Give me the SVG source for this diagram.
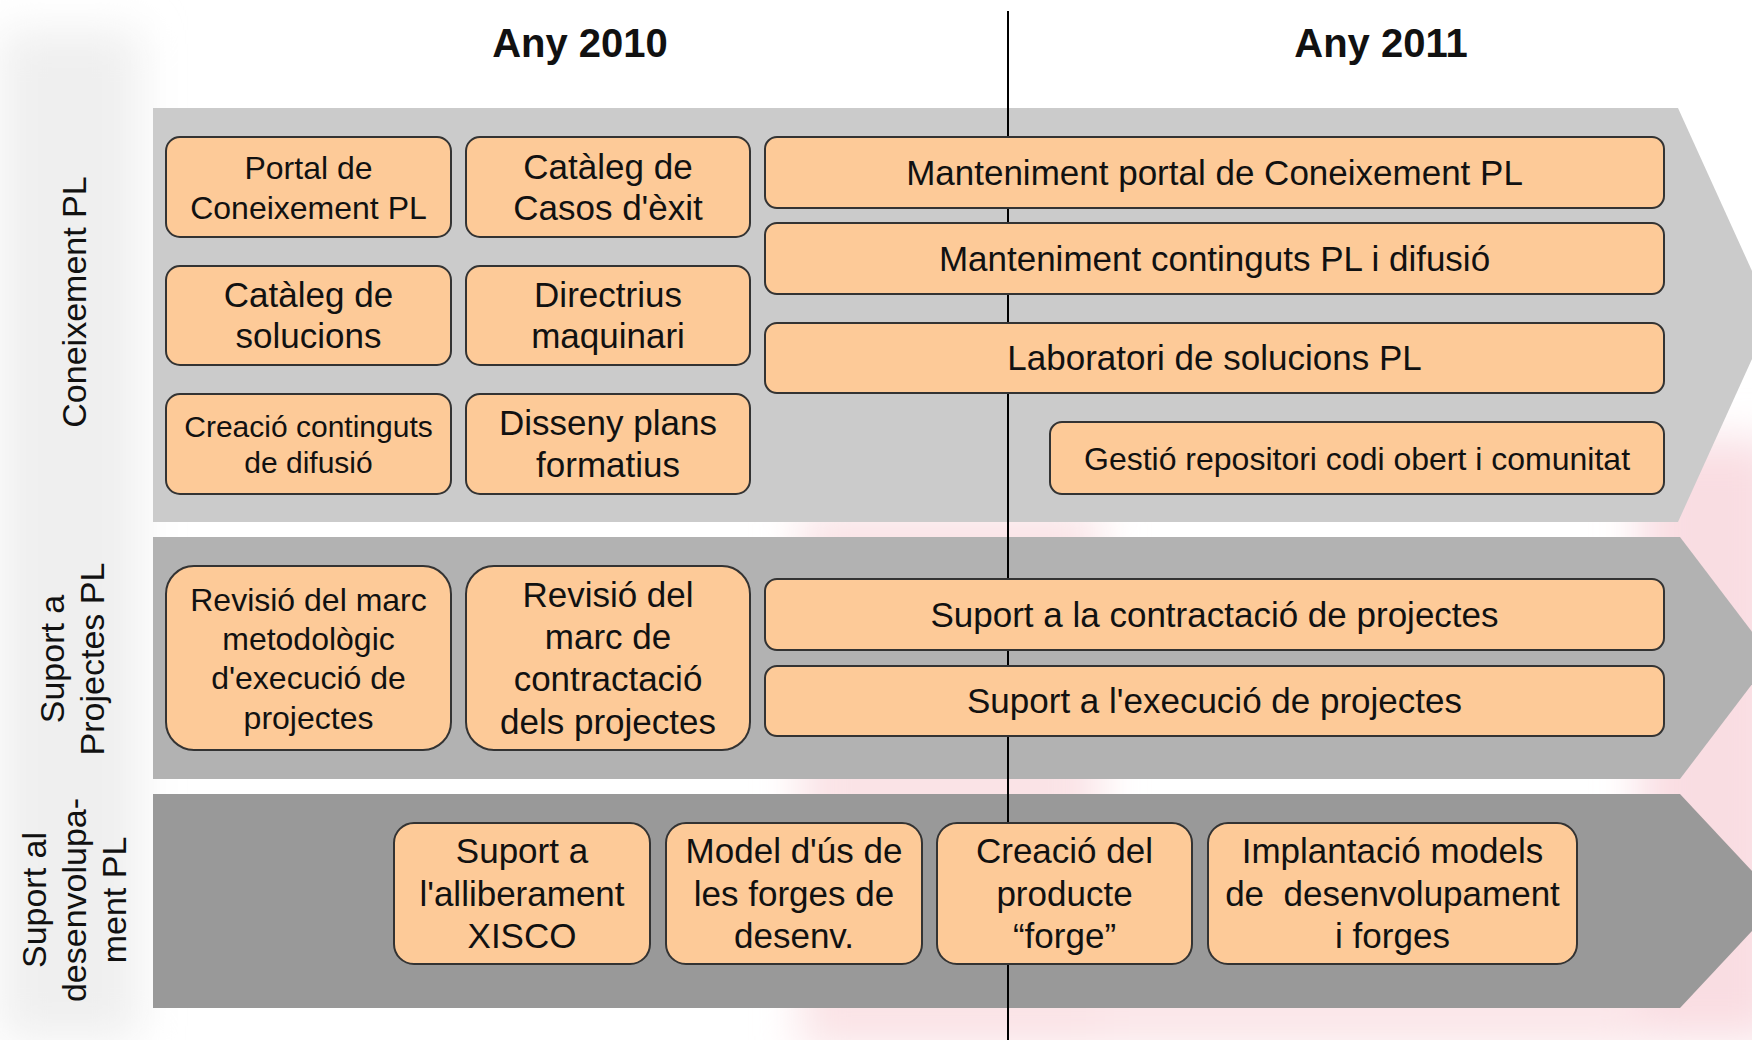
<svg xmlns="http://www.w3.org/2000/svg" width="1752" height="1040" viewBox="0 0 1752 1040">
  <defs>
    <filter id="blur" x="-20%" y="-20%" width="140%" height="140%">
      <feGaussianBlur stdDeviation="22"/>
    </filter>
    <style>
      .t { font-family: "Liberation Sans", Arial, sans-serif; fill: #111; text-anchor: middle; }
      .yr { font-size: 40px; font-weight: bold; }
      .lab { font-size: 34px; }
      .b35 { font-size: 35px; }
      .b32 { font-size: 32px; }
      .b30 { font-size: 30px; }
      .box { fill: #fdca98; stroke: #333; stroke-width: 2; }
    </style>
  </defs>

  <rect width="1752" height="1040" fill="#ffffff"/>
  <!-- faint background watermark -->
  <g id="background" filter="url(#blur)">
    <rect x="0" y="30" width="140" height="1010" fill="#efefef"/>
    <rect x="1640" y="440" width="140" height="600" fill="#f9dde2"/>
    <rect x="800" y="510" width="300" height="540" fill="#fae3e6"/>
    <rect x="1100" y="880" width="540" height="170" fill="#fbe6e9"/>
  </g>

  <!-- year headers -->
  <g id="headers">
    <text class="t yr" x="580" y="57">Any 2010</text>
    <text class="t yr" x="1381" y="57">Any 2011</text>
  </g>

  <!-- swimlane bands -->
  <g id="band-coneixement">
    <polygon points="153,108 1678,108 1772,315 1678,522 153,522" fill="#cbcbcb"/>
    <text class="t lab" transform="translate(86,302) rotate(-90)">Coneixement PL</text>
  </g>
  <g id="band-suport-projectes">
    <polygon points="153,537 1680,537 1772,658 1680,779 153,779" fill="#b2b2b2"/>
    <text class="t lab" transform="translate(64,659) rotate(-90)"><tspan x="0" y="0">Suport a</tspan><tspan x="0" y="40">Projectes PL</tspan></text>
  </g>
  <g id="band-suport-desenvolupament">
    <polygon points="153,794 1680,794 1780,901 1680,1008 153,1008" fill="#999999"/>
    <text class="t lab" transform="translate(46,900) rotate(-90)"><tspan x="0" y="0">Suport al</tspan><tspan x="0" y="40">desenvolupa-</tspan><tspan x="0" y="80">ment PL</tspan></text>
  </g>

  <!-- timeline divider -->
  <g id="connectors">
    <line x1="1008" y1="11" x2="1008" y2="1040" stroke="#000" stroke-width="2"/>
  </g>

  <!-- Band 1 nodes -->
  <g id="n-portal">
    <rect class="box" x="166" y="137" width="285" height="100" rx="14"/>
    <text class="t b32" x="308.5" y="179">Portal de</text>
    <text class="t b32" x="308.5" y="219">Coneixement PL</text>
  </g>
  <g id="n-cataleg-casos">
    <rect class="box" x="466" y="137" width="284" height="100" rx="14"/>
    <text class="t b35" x="608" y="179">Catàleg de</text>
    <text class="t b35" x="608" y="220">Casos d'èxit</text>
  </g>
  <g id="n-cataleg-solucions">
    <rect class="box" x="166" y="266" width="285" height="99" rx="14"/>
    <text class="t b35" x="308.5" y="307">Catàleg de</text>
    <text class="t b35" x="308.5" y="348">solucions</text>
  </g>
  <g id="n-directrius">
    <rect class="box" x="466" y="266" width="284" height="99" rx="14"/>
    <text class="t b35" x="608" y="307">Directrius</text>
    <text class="t b35" x="608" y="348">maquinari</text>
  </g>
  <g id="n-creacio-continguts">
    <rect class="box" x="166" y="394" width="285" height="100" rx="14"/>
    <text class="t b30" x="308.5" y="437">Creació continguts</text>
    <text class="t b30" x="308.5" y="473">de difusió</text>
  </g>
  <g id="n-disseny">
    <rect class="box" x="466" y="394" width="284" height="100" rx="14"/>
    <text class="t b35" x="608" y="435">Disseny plans</text>
    <text class="t b35" x="608" y="477">formatius</text>
  </g>
  <g id="n-manteniment-portal">
    <rect class="box" x="765" y="137" width="899" height="71" rx="12"/>
    <text class="t b35" x="1214.5" y="185">Manteniment portal de Coneixement PL</text>
  </g>
  <g id="n-manteniment-continguts">
    <rect class="box" x="765" y="223" width="899" height="71" rx="12"/>
    <text class="t b35" x="1214.5" y="271">Manteniment continguts PL i difusió</text>
  </g>
  <g id="n-laboratori">
    <rect class="box" x="765" y="323" width="899" height="70" rx="12"/>
    <text class="t b35" x="1214.5" y="370">Laboratori de solucions PL</text>
  </g>
  <g id="n-gestio-repositori">
    <rect class="box" x="1050" y="422" width="614" height="72" rx="12"/>
    <text class="t b32" x="1357" y="470">Gestió repositori codi obert i comunitat</text>
  </g>

  <!-- Band 2 nodes -->
  <g id="n-revisio-metodologic">
    <rect class="box" x="166" y="566" width="285" height="184" rx="28"/>
    <text class="t b32" x="308.5" y="611">Revisió del marc</text>
    <text class="t b32" x="308.5" y="650">metodològic</text>
    <text class="t b32" x="308.5" y="689">d'execució de</text>
    <text class="t b32" x="308.5" y="729">projectes</text>
  </g>
  <g id="n-revisio-contractacio">
    <rect class="box" x="466" y="566" width="284" height="184" rx="28"/>
    <text class="t b35" x="608" y="607">Revisió del</text>
    <text class="t b35" x="608" y="649">marc de</text>
    <text class="t b35" x="608" y="691">contractació</text>
    <text class="t b35" x="608" y="734">dels projectes</text>
  </g>
  <g id="n-suport-contractacio">
    <rect class="box" x="765" y="579" width="899" height="71" rx="12"/>
    <text class="t b35" x="1214.5" y="627">Suport a la contractació de projectes</text>
  </g>
  <g id="n-suport-execucio">
    <rect class="box" x="765" y="666" width="899" height="70" rx="12"/>
    <text class="t b35" x="1214.5" y="713">Suport a l'execució de projectes</text>
  </g>

  <!-- Band 3 nodes -->
  <g id="n-alliberament">
    <rect class="box" x="394" y="823" width="256" height="141" rx="20"/>
    <text class="t b35" x="522" y="863">Suport a</text>
    <text class="t b35" x="522" y="906">l'alliberament</text>
    <text class="t b35" x="522" y="948">XISCO</text>
  </g>
  <g id="n-model-us">
    <rect class="box" x="666" y="823" width="256" height="141" rx="20"/>
    <text class="t b35" x="794" y="863">Model d'ús de</text>
    <text class="t b35" x="794" y="906">les forges de</text>
    <text class="t b35" x="794" y="948">desenv.</text>
  </g>
  <g id="n-creacio-forge">
    <rect class="box" x="937" y="823" width="255" height="141" rx="20"/>
    <text class="t b35" x="1064.5" y="863">Creació del</text>
    <text class="t b35" x="1064.5" y="906">producte</text>
    <text class="t b35" x="1064.5" y="948">“forge”</text>
  </g>
  <g id="n-implantacio">
    <rect class="box" x="1208" y="823" width="369" height="141" rx="20"/>
    <text class="t b35" x="1392.5" y="863">Implantació models</text>
    <text class="t b35" x="1392.5" y="906" xml:space="preserve">de  desenvolupament</text>
    <text class="t b35" x="1392.5" y="948">i forges</text>
  </g>
</svg>
